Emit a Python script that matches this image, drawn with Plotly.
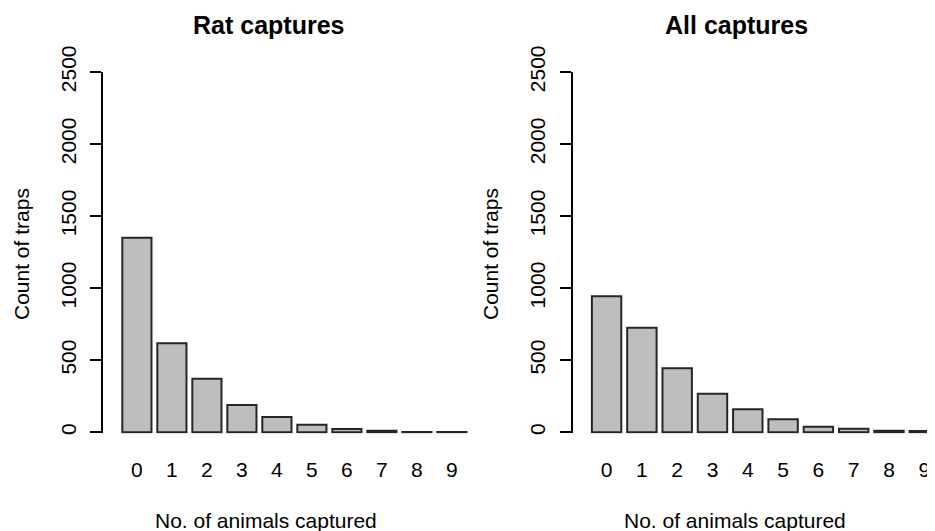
import plotly.graph_objects as go

categories = [0, 1, 2, 3, 4, 5, 6, 7, 8, 9]
tick_labels = ["0", "1", "2", "3", "4", "5", "6", "7", "8", "9"]
rat_counts = [1350, 618, 372, 189, 106, 53, 23, 10, 2, 2]
all_counts = [944, 726, 444, 268, 160, 90, 39, 25, 10, 9]
y_ticks = [0, 500, 1000, 1500, 2000, 2500]
panel_titles = ["Rat captures", "All captures"]
x_title = "No. of animals captured"
y_title = "Count of traps"

# the page body keeps its default 8px margin, so the figure is drawn 8px
# smaller and all screen positions below are shifted by that amount
OFF = 8
W, H = 935 - OFF, 531 - OFF
FONT = "Liberation Sans, Arial, sans-serif"
bar_fill = "#bebebe"
bar_line = "#262626"

fig = go.Figure()
fig.add_trace(go.Bar(x=categories, y=rat_counts, xaxis="x", yaxis="y",
                     marker=dict(color=bar_fill, line=dict(color=bar_line, width=2)),
                     showlegend=False, hoverinfo="x+y"))
fig.add_trace(go.Bar(x=categories, y=all_counts, xaxis="x2", yaxis="y2",
                     marker=dict(color=bar_fill, line=dict(color=bar_line, width=2)),
                     showlegend=False, hoverinfo="x+y"))

def px_x(p):
    return (p - OFF) / W

def px_y(p):
    return (H - (p - OFF)) / H

# screen geometry of the reference
left_axis, left_pitch = 103.3, 35.0
right_axis, right_pitch = 572.7, 35.3
y0_px, y2500_px = 432.3, 72.0
ypp = (y0_px - y2500_px) / 2500.0
ymin = -8
ybot_px = y0_px - ymin * ypp

left_end = 497.4
right_end = 935.0
x_lo = -0.96
left_range = [x_lo, x_lo + (left_end - left_axis) / left_pitch]
right_range = [x_lo, x_lo + (right_end - right_axis) / right_pitch]

xaxis_common = dict(
    tickmode="array", tickvals=categories, ticktext=tick_labels,
    showline=False, showgrid=False, zeroline=False, ticks="",
    tickfont=dict(family=FONT, size=21, color="#000"),
    ticklabelstandoff=22, automargin=False, fixedrange=True,
)
yaxis_common = dict(
    range=[ymin, 2500], tickmode="array", tickvals=y_ticks,
    ticktext=[str(v) for v in y_ticks],
    showline=True, linecolor="#000", linewidth=2,
    ticks="outside", ticklen=11, tickwidth=2, tickcolor="#000",
    showgrid=False, zeroline=False, tickangle=-90,
    tickfont=dict(family=FONT, size=21, color="#000"),
    ticklabelstandoff=6, domain=[px_y(ybot_px), px_y(y2500_px)],
    automargin=False, fixedrange=True,
)

fig.update_layout(
    template="none",
    width=W, height=H,
    margin=dict(l=0, r=0, t=0, b=0, pad=0),
    paper_bgcolor="white", plot_bgcolor="white",
    bargap=1 - 1 / 1.2,
    xaxis=dict(xaxis_common, domain=[px_x(left_axis), px_x(left_end)],
               range=left_range, anchor="y"),
    yaxis=dict(yaxis_common, anchor="x"),
    xaxis2=dict(xaxis_common, domain=[px_x(right_axis), min(1.0, px_x(right_end))],
                range=right_range, anchor="y2"),
    yaxis2=dict(yaxis_common, anchor="x2"),
)

annotations = []
for cx, t in [(268, panel_titles[0]), (736, panel_titles[1])]:
    annotations.append(dict(text="<b>" + t + "</b>", x=px_x(cx), y=px_y(25),
                            xref="paper", yref="paper", showarrow=False,
                            xanchor="center", yanchor="middle",
                            font=dict(family=FONT, size=25, color="#000")))
for cx in (266, 735):
    annotations.append(dict(text=x_title, x=px_x(cx), y=px_y(520),
                            xref="paper", yref="paper", showarrow=False,
                            xanchor="center", yanchor="middle",
                            font=dict(family=FONT, size=21, color="#000")))
for cx in (21, 490):
    annotations.append(dict(text=y_title, x=px_x(cx), y=px_y(254),
                            xref="paper", yref="paper", showarrow=False,
                            xanchor="center", yanchor="middle", textangle=-90,
                            font=dict(family=FONT, size=21, color="#000")))
fig.update_layout(annotations=annotations)

fig.write_html("out.html")
